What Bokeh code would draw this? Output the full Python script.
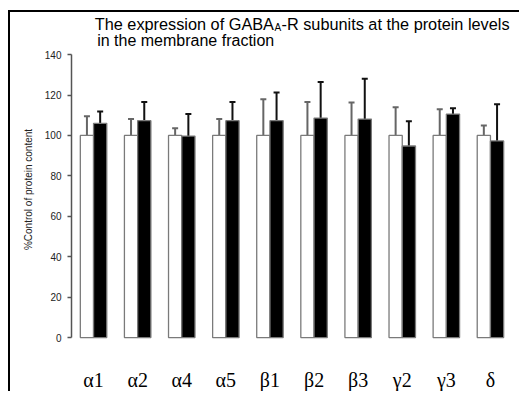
from bokeh.plotting import figure
from bokeh.models import ColumnDataSource, FactorRange, FixedTicker, Whisker, TeeHead, Label
from bokeh.transform import dodge
from bokeh.embed import file_html
from bokeh.resources import INLINE

subunits = ["α1", "α2", "α4", "α5", "β1", "β2", "β3", "γ2", "γ3", "δ"]
control_mean = [100, 100, 100, 100, 100, 100, 100, 100, 100, 100]
control_upper = [109.5, 108.1, 103.6, 108.1, 117.9, 116.6, 116.3, 113.9, 113.0, 104.9]
treated_mean = [106.0, 107.3, 99.7, 107.3, 107.3, 108.6, 108.1, 94.8, 110.6, 97.3]
treated_upper = [111.9, 116.6, 110.6, 116.6, 121.2, 126.5, 128.1, 107.0, 113.5, 115.5]
y_ticks = [0, 20, 40, 60, 80, 100, 120, 140]
y_label = "%Control of protein content"

src = ColumnDataSource(dict(
    sub=subunits,
    c=control_mean, cu=control_upper,
    t=treated_mean, tu=treated_upper,
))

# Bokeh's page template has no body margin: place the figure with CSS margins,
# the black left/top rules of the original figure box are CSS borders.
p = figure(
    width=511, height=381,
    x_range=FactorRange(factors=subunits, range_padding=0, factor_padding=0),
    y_range=(-14.29, 160.83),
    output_backend="svg", toolbar_location=None,
    min_border_left=61, min_border_right=9, min_border_top=0, min_border_bottom=22,
)
p.styles = {"margin-left": "8px", "margin-top": "10px",
            "border-left": "2px solid black", "border-top": "2px solid black"}
p.outline_line_color = None
p.xgrid.visible = False
p.ygrid.visible = False
p.background_fill_color = "white"
p.border_fill_color = "white"

bw = 0.30
p.vbar(x=dodge("sub", -0.15, range=p.x_range), top="c", bottom=0, width=bw, source=src,
       fill_color="white", line_color="#7a7a7a", line_width=1.3)
p.vbar(x=dodge("sub", 0.15, range=p.x_range), top="t", bottom=0, width=bw, source=src,
       fill_color="black", line_color="#7a7a7a", line_width=1.3)

w1 = Whisker(base=dodge("sub", -0.15, range=p.x_range), lower="c", upper="cu", source=src,
             line_color="#666666", line_width=2,
             lower_head=None, upper_head=TeeHead(size=6, line_color="#666666", line_width=2))
w2 = Whisker(base=dodge("sub", 0.15, range=p.x_range), lower="t", upper="tu", source=src,
             line_color="#111111", line_width=2,
             lower_head=None, upper_head=TeeHead(size=6, line_color="#111111", line_width=2))
p.add_layout(w1)
p.add_layout(w2)

ya = p.yaxis[0]
ya.ticker = FixedTicker(ticks=y_ticks)
ya.bounds = (0, 140)
ya.axis_line_color = "#555555"
ya.axis_line_width = 1.5
ya.major_tick_line_color = "#555555"
ya.major_tick_line_width = 1.5
ya.major_tick_out = 4
ya.major_tick_in = 0
ya.minor_tick_line_color = None
ya.major_label_text_font = "Liberation Sans"
ya.major_label_text_font_size = "10px"
ya.major_label_text_color = "#222222"
ya.major_label_standoff = 6
ya.axis_label = y_label
ya.axis_label_text_font = "Liberation Sans"
ya.axis_label_text_font_size = "10px"
ya.axis_label_text_font_style = "normal"
ya.axis_label_text_color = "#222222"
ya.axis_label_standoff = 8

xa = p.xaxis[0]
xa.axis_line_color = None
xa.major_tick_line_color = None
xa.minor_tick_line_color = None
xa.major_label_text_font = "Liberation Serif"
xa.major_label_text_font_size = "20px"
xa.major_label_text_color = "black"
xa.major_label_standoff = -4

title_font = "Liberation Sans"
for txt, x, y, size in [
    ("The expression of GABA", 0.528, 155.0, "16.3px"),
    ("A", 4.601, 153.5, "10px"),
    ("-R subunits at the protein levels", 4.762, 155.0, "16.3px"),
    ("in the membrane fraction", 0.583, 146.9, "16px"),
]:
    p.add_layout(Label(x=x, y=y, text=txt, text_font=title_font, text_font_size=size,
                       text_color="black", text_baseline="alphabetic", text_align="left"))

open("out.html", "w").write(file_html(p, INLINE))
